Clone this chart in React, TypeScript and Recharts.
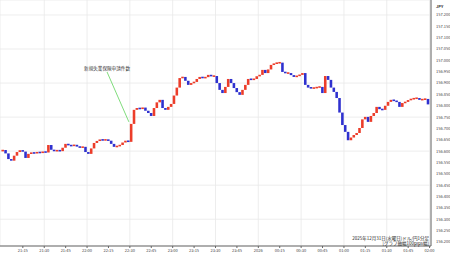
import { ComposedChart, Bar, XAxis, YAxis, CartesianGrid, ReferenceLine, ReferenceDot } from "recharts";

// USD/JPY 1-minute chart, 2025-12-31 21:00 -> 2026-01-01 02:00, sampled every 2 minutes
const closes: number[] = [
  156.605, 156.59, 156.565, 156.558, 156.58, 156.596, 156.604, 156.598, 156.57, 156.588,
  156.594, 156.59, 156.596, 156.592, 156.598, 156.594, 156.627, 156.606, 156.6, 156.604,
  156.6, 156.615, 156.632, 156.626, 156.623, 156.628, 156.62, 156.616, 156.619, 156.596,
  156.588, 156.612, 156.636, 156.645, 156.651, 156.648, 156.651, 156.646, 156.632, 156.619,
  156.622, 156.627, 156.638, 156.646, 156.641, 156.72, 156.782, 156.79, 156.786, 156.792,
  156.778, 156.768, 156.755, 156.79, 156.815, 156.826, 156.79, 156.782, 156.795, 156.808,
  156.845, 156.88, 156.922, 156.927, 156.91, 156.892, 156.9, 156.905, 156.918, 156.927,
  156.922, 156.926, 156.936, 156.93, 156.931, 156.9, 156.87, 156.856, 156.883, 156.918,
  156.9, 156.878, 156.86, 156.848, 156.87, 156.892, 156.918, 156.915, 156.918, 156.93,
  156.936, 156.958, 156.944, 156.96, 156.98, 156.986, 156.989, 156.99, 156.949, 156.944,
  156.944, 156.935, 156.927, 156.932, 156.936, 156.944, 156.892, 156.88, 156.878, 156.878,
  156.882, 156.883, 156.856, 156.931, 156.914, 156.88, 156.861, 156.834, 156.77, 156.715,
  156.685, 156.648, 156.66, 156.671, 156.68, 156.702, 156.74, 156.751, 156.729, 156.755,
  156.768, 156.795, 156.785, 156.782, 156.8, 156.817, 156.826, 156.822, 156.817, 156.795,
  156.812, 156.817, 156.825, 156.83, 156.832, 156.834, 156.826, 156.828, 156.83, 156.806,
];
const firstOpen = 156.6;
const minutesPerBar = 2;

const xTicks = [0, 15, 30, 45, 60, 75, 90, 105, 120, 135, 150, 165, 180, 195, 210, 225, 240, 255, 270, 285, 300];
const yTicks = [
  156.2, 156.25, 156.3, 156.35, 156.4, 156.45, 156.5, 156.55, 156.6, 156.65, 156.7,
  156.75, 156.8, 156.85, 156.9, 156.95, 157.0, 157.05, 157.1, 157.15, 157.2,
];

const annotation = "新規失業保険申請件数";
const annoLine = [{ x: 74, y: 156.949 }, { x: 89.3, y: 156.729 }];
const footer1 = "2025年12月31日(水曜日)ドル/円1分足";
const footer2 = "[グラフ軸幅100pips幅]";

const FONT = "'Noto Sans CJK JP', 'DejaVu Sans', sans-serif";
const UP = "#ec3d2a";
const DOWN = "#2f31cf";

const data = closes.map((c, i) => {
  const o = i === 0 ? firstOpen : closes[i - 1];
  return {
    t: i * minutesPerBar + minutesPerBar / 2,
    body: [Math.min(o, c), Math.max(o, c)],
    up: c >= o,
  };
});

const fmtTime = (m: number) => {
  if (m === 180) return "2026";
  const h = (21 + Math.floor(m / 60)) % 24;
  const mm = m % 60;
  return `${String(h).padStart(2, "0")}:${String(mm).padStart(2, "0")}`;
};

const Candle = (props: any) => {
  const { x, y, width, height, payload } = props;
  const h = Math.max(Math.abs(height), 1.6);
  const top = height < 0 ? y + height : y;
  return <rect x={x} y={top - (h - Math.abs(height)) / 2} width={width} height={h} fill={payload.up ? UP : DOWN} />;
};

export default function App() {
  return (
    <div style={{ position: "absolute", left: 0, top: 0, width: 450, height: 258, background: "#fff" }}>
      <ComposedChart width={450} height={258} data={data} margin={{ top: 0, right: 0, bottom: 0, left: 0 }}>
        <CartesianGrid stroke="#e9e9e9" strokeWidth={0.8} />
        <XAxis
          dataKey="t"
          type="number"
          domain={[-1, 301]}
          ticks={xTicks}
          tickFormatter={fmtTime}
          height={12}
          stroke="#666"
          tickSize={2}
          tickMargin={1}
          tick={{ fontSize: 4, fill: "#444", fontFamily: FONT }}
          allowDataOverflow
        />
        <YAxis
          orientation="right"
          type="number"
          domain={[156.182, 157.266]}
          ticks={yTicks}
          tickFormatter={(v: number) => v.toFixed(3)}
          width={19}
          stroke="#666"
          tickLine={false}
          tickSize={3}
          tickMargin={2}
          tick={{ fontSize: 4, fill: "#444", fontFamily: FONT, textAnchor: "start" }}
          allowDataOverflow
        />
        <Bar dataKey="body" barSize={2.9} shape={<Candle />} isAnimationActive={false} />
        <ReferenceLine segment={annoLine} stroke="#5fd35a" strokeWidth={0.8} />
        <ReferenceDot
          x={74}
          y={156.966}
          r={0}
          label={{ value: annotation, position: "center", fontSize: 4.6, fill: "#333", fontFamily: FONT }}
        />
      </ComposedChart>
      <div style={{ position: "absolute", left: 436, top: 3, fontSize: 4, fontWeight: "bold", color: "#333", fontFamily: FONT }}>
        JPY
      </div>
      <div
        style={{
          position: "absolute",
          right: 21,
          top: 236,
          fontSize: 4.5,
          lineHeight: "5px",
          textAlign: "right",
          color: "#222",
          fontFamily: FONT,
          whiteSpace: "nowrap",
        }}
      >
        {footer1}
        <br />
        {footer2}
      </div>
    </div>
  );
}
